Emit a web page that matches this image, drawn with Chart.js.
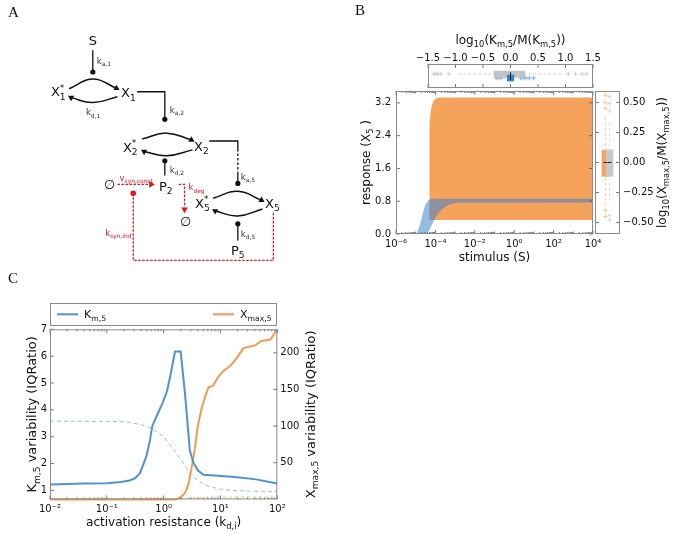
<!DOCTYPE html>
<html><head><meta charset="utf-8">
<script src="https://cdn.jsdelivr.net/npm/chart.js@4.4.1/dist/chart.umd.min.js"></script>
<style>
html,body{margin:0;padding:0;background:#fff;}
#wrap{position:relative;width:675px;height:534px;overflow:hidden;background:#fff;}
#wrap canvas{position:absolute;left:0;top:0;}
</style></head><body>
<div id="wrap">
<canvas id="cA" width="675" height="534"></canvas>
<canvas id="cB" width="675" height="534"></canvas>
<canvas id="cBtop" width="675" height="534"></canvas>
<canvas id="cBright" width="675" height="534"></canvas>
<canvas id="cC" width="675" height="534"></canvas>
</div>
<script>
// ================= DATA =================
// ---- Panel A: reaction diagram (diagram units) ----
const A_TEXT   = ['S','X^{*}_{1}','X_{1}','X^{*}_{2}','X_{2}','P_{2}','X^{*}_{5}','X_{5}','P_{5}','∅','∅'];
const A_TEXT_X = [90,55,126,128,200,164,201,272,237,107,184];
const A_TEXT_Y = [37,89,90,145,144,184.5,202,202,250,183,220];
const A_RATE   = ['k_{a,1}','k_{d,1}','k_{a,2}','k_{d,2}','k_{a,5}','k_{d,5}'];
const A_RATE_X = [94,83,168,168,240,240];
const A_RATE_Y = [58,110,107,168,175,233];
const A_RED_TEXT = ['v_{syn,const}','k_{deg}','k_{syn,ind}'];
const A_RED_X = [134,187,116];
const A_RED_Y = [176,186,232];
const A_SOLID = [
  [[90,47],[90,69]],
  [[135,89],[163,89],[163,117]],
  [[208,139],[237,139],[237,147]],
  [[237,171],[237,182]],
  [[163,174],[163,159]],
  [[237,240],[237,223]]
];
const A_DASHED = [[[237,147],[237,171]]];
const A_RED = [
  [[115,183],[146,183]],
  [[177,183],[183,183],[183,206]],
  [[131,192],[131,260],[273,260],[273,210]]
];
const A_ARCS = [
  [[66,86],[90,76],[114,85.5]], [[115,94],[90,100],[68,95]],
  [[140,137],[165,131],[190,137.8]], [[191,148],[165,154],[142,149.7]],
  [[212,197],[237,190],[261,199]], [[262,208],[237,215],[214,210]]
];
const A_DOTS = [[90,69],[163,117],[237,182],[163,159],[237,223]];
const A_RED_DOTS = [[131,192]];
const A_ARROWS = [[114,85.5,120],[68,95,300],[190,137.8,120],[142,149.7,300],[261,199,120],[214,210,300]];
const A_RED_ARROWS = [[149,183,90],[183,208.5,180]];

// ---- Panel B: response bands, stimulus given as log10(S) ----
const B_ORANGE_UP_LOGS = [-4.32,-4.31,-4.29,-4.25,-4.19,-4.1,-4.0,-3.8,4];
const B_ORANGE_UP_Y    = [0.34,2.0,2.7,2.95,3.12,3.24,3.3,3.33,3.33];
const B_ORANGE_LO_LOGS = [-4.32,4];
const B_ORANGE_LO_Y    = [0.34,0.34];
const B_BLUE_UP_LOGS = [-4.95,-4.8,-4.7,-4.6,-4.5,-4.4,-4.3,-4.15,-3.9,4];
const B_BLUE_UP_Y    = [0,0.2,0.38,0.58,0.72,0.8,0.84,0.855,0.86,0.86];
const B_BLUE_LO_LOGS = [-4.95,-4.45,-4.3,-4.19,-4.02,-3.8,-3.5,-3.2,-2.9,4];
const B_BLUE_LO_Y    = [0,0,0.1,0.22,0.38,0.54,0.67,0.73,0.76,0.77];
const B_X_EXP_RANGE = [-6,4];
const B_X_LABEL_EXP = [-6,-4,-2,0,2,4];
const B_Y_TICKS = [0,0.8,1.6,2.4,3.2];

// top boxplot: log10(Km,5/M(Km,5)); rows: gray, blue
const BT_TICKS = [-1.5,-1,-0.5,0,0.5,1,1.5];
const BT_POS = [1,2];
const BT_Q1  = [-0.3,-0.06];
const BT_MED = [0,0];
const BT_Q3  = [0.26,0.06];
const BT_WLO = [-0.95,-0.14];
const BT_WHI = [0.95,0.14];
const BT_FLIERS_GRAY = [-1.4,-1.36,-1.32,-1.27,-1.12,1.05,1.18,1.3,1.38];
const BT_FLIERS_BLUE = [-0.26,-0.21,-0.17,0.18,0.23,0.28,0.34,0.42];

// right boxplot: log10(Xmax,5/M(Xmax,5)); columns: orange, gray
const BR_TICKS = [-0.5,-0.25,0,0.25,0.5];
const BR_POS = [1,2];
const BR_Q1  = [-0.115,-0.115];
const BR_MED = [0,0];
const BR_Q3  = [0.1,0.105];
const BR_WLO = [-0.36,-0.32];
const BR_WHI = [0.38,0.34];
const BR_FLIERS_ORANGE = [0.56,0.5,0.45,-0.4,-0.45];
const BR_FLIERS_GRAY   = [0.55,0.49,0.43,-0.44,-0.48];

// ---- Panel C: variability vs activation resistance, kd given as log10 ----
const C_KM_LOGX = [-2,-1.4,-1.0,-0.75,-0.6,-0.5,-0.42,-0.36,-0.3,-0.24,-0.2,-0.12,-0.02,0.06,0.12,0.2,0.3,0.38,0.46,0.52,0.6,0.7,0.95,1.25,1.6,2.0];
const C_KM      = [1.22,1.26,1.27,1.31,1.37,1.46,1.63,1.95,2.3,2.88,3.4,3.78,4.25,4.7,5.3,6.17,6.17,4.5,2.5,2.05,1.75,1.58,1.55,1.5,1.42,1.26];
const C_XMAX_LOGX = [-2,0.2,0.29,0.375,0.43,0.49,0.55,0.6,0.67,0.73,0.79,0.87,0.96,1.05,1.17,1.28,1.4,1.49,1.61,1.72,1.88,2.0];
const C_XMAX      = [0,0,2.5,8.5,19,42,70,100,125,140,153,155,167,175,182,192,206,208,210,216,218,232];
const C_KMREF_LOGX = [-2,-1,-0.65,-0.4,-0.2,0,0.15,0.3,0.45,0.6,0.8,1.0,1.3,1.6,2.0];
const C_KMREF      = [3.58,3.57,3.55,3.45,3.3,3.0,2.6,2.15,1.7,1.35,1.15,1.04,0.99,0.97,0.96];
const C_XREF_LOGX = [0.2,0.4,0.6,1.0,1.5,2.0];
const C_XREF      = [0.5,2,3,3.2,3.3,3.4];
const C_X_EXP_RANGE = [-2,2];
const C_X_LABEL_EXP = [-2,-1,0,1,2];
const C_Y_TICKS = [1,2,3,4,5,6,7];
const C_Y2_TICKS = [50,100,150,200];

// ================= HELPERS =================
const FONT = '"DejaVu Sans", "Liberation Sans", sans-serif';
const SERIF = '"Liberation Serif", "DejaVu Serif", serif';
Chart.defaults.font.family = FONT;
Chart.defaults.font.size = 10;
Chart.defaults.color = '#111';
Chart.defaults.animation = false;
Chart.defaults.plugins.legend.display = false;
Chart.defaults.plugins.tooltip.enabled = false;
const FRAME = '#8a8a8a', TICKC = '#555';
const BLUE = '#4f93cf', ORANGE = '#f5a35c';

const SUP = {'-':'⁻','0':'⁰','1':'¹','2':'²','3':'³','4':'⁴','5':'⁵','6':'⁶','7':'⁷','8':'⁸','9':'⁹'};
const pow10Label = e => '10' + String(e).split('').map(c => SUP[c]).join('');
const minus = s => s.replace('-', '−');
const pts = (xs, ys, fx) => xs.map((v, i) => ({x: fx ? fx(v) : v, y: ys[i]}));
const p10 = v => Math.pow(10, v);

function logTicks(range, labeled) {
  const t = [];
  for (let e = range[0]; e <= range[1]; e++) {
    t.push({value: p10(e), exp: e, lab: labeled.includes(e), len: labeled.includes(e) ? 4 : 2.5});
    if (e < range[1]) for (let m = 2; m <= 9; m++) t.push({value: m * p10(e), len: 2});
  }
  return t;
}
function richLayout(ctx, str, size, family) {
  const segs = []; let i = 0, buf = '';
  while (i < str.length) {
    const c = str[i];
    if ((c === '_' || c === '^') && str[i + 1] === '{') {
      if (buf) { segs.push({t: buf, l: 0}); buf = ''; }
      const j = str.indexOf('}', i + 2);
      segs.push({t: str.slice(i + 2, j), l: c === '_' ? -1 : 1});
      i = j + 1;
    } else { buf += c; i++; }
  }
  if (buf) segs.push({t: buf, l: 0});
  let x = 0; const items = []; let prev = null;
  segs.forEach(s => {
    const fs = s.l === 0 ? size : size * 0.7;
    ctx.font = fs + 'px ' + family;
    const w = ctx.measureText(s.t).width;
    const dy = s.l === 0 ? 0 : (s.l < 0 ? size * 0.25 : -size * 0.45);
    if (prev && prev.l !== 0 && s.l !== 0 && prev.l !== s.l) {
      items.push({t: s.t, x: prev.x, dy, fs});
      x = Math.max(prev.x + prev.w, prev.x + w); prev = null; return;
    }
    items.push({t: s.t, x, dy, fs}); prev = {x, w, l: s.l}; x += w;
  });
  return {items, width: x};
}
function drawRich(ctx, str, x, y, o) {
  o = o || {}; const size = o.size || 12, fam = o.family || FONT;
  ctx.save(); ctx.translate(x, y); if (o.rot) ctx.rotate(o.rot);
  const L = richLayout(ctx, str, size, fam);
  const x0 = o.align === 'left' ? 0 : (o.align === 'right' ? -L.width : -L.width / 2);
  ctx.fillStyle = o.color || '#111'; ctx.textBaseline = 'alphabetic'; ctx.textAlign = 'left';
  const base = size * 0.36;
  L.items.forEach(it => { ctx.font = it.fs + 'px ' + fam; ctx.fillText(it.t, x0 + it.x, base + it.dy); });
  ctx.restore();
}
function frameTicks(id, axes) {
  return { id, afterDraw(chart) {
    const {ctx, chartArea: a} = chart;
    ctx.save(); ctx.lineWidth = 0.8; ctx.strokeStyle = TICKC;
    axes.forEach(ax => {
      const sc = chart.scales[ax.id];
      sc.ticks.forEach(t => {
        const p = sc.getPixelForValue(t.value); const len = t.len || 4;
        ctx.beginPath();
        ax.sides.forEach(sd => {
          if (sd === 'bottom') { ctx.moveTo(p, a.bottom); ctx.lineTo(p, a.bottom - len); }
          if (sd === 'top') { ctx.moveTo(p, a.top); ctx.lineTo(p, a.top + len); }
          if (sd === 'left') { ctx.moveTo(a.left, p); ctx.lineTo(a.left + len, p); }
          if (sd === 'right') { ctx.moveTo(a.right, p); ctx.lineTo(a.right - len, p); }
        });
        ctx.stroke();
      });
    });
    ctx.strokeStyle = FRAME; ctx.lineWidth = 1;
    ctx.strokeRect(a.left + 0.5, a.top + 0.5, a.width - 1, a.height - 1);
    ctx.restore();
  }};
}
const axisBase = (size, extra) => Object.assign({
  grid: {display: false, drawTicks: false, tickLength: 0}, border: {display: false},
  afterFit: s => { if (s.isHorizontal()) s.height = size; else s.width = size; }
}, extra);
const fixTicks = list => (s => { s.ticks = list.map(v => (typeof v === 'object' ? v : {value: v})); });

// ================= PANEL A =================
(function () {
  const ds = [];
  const line = (pl, color, dash, w) => ({data: pl.map(p => ({x: p[0], y: p[1]})), showLine: true, borderColor: color,
    borderWidth: w || 1.3, borderDash: dash || [], pointRadius: 0, tension: 0});
  A_SOLID.forEach(pl => ds.push(line(pl, '#111')));
  A_DASHED.forEach(pl => ds.push(line(pl, '#111', [2.5, 2])));
  A_RED.forEach(pl => ds.push(line(pl, '#e8141c', [2.5, 1.5], 1.3)));
  A_ARCS.forEach(pl => { const d = line(pl, '#111', [], 1.5); d.tension = 0.45; ds.push(d); });
  ds.push({data: A_DOTS.map(p => ({x: p[0], y: p[1]})), pointRadius: 2.6, pointBackgroundColor: '#111', pointBorderWidth: 0});
  ds.push({data: A_RED_DOTS.map(p => ({x: p[0], y: p[1]})), pointRadius: 2.8, pointBackgroundColor: '#e8141c', pointBorderWidth: 0});
  ds.push({data: A_ARROWS.map(p => ({x: p[0], y: p[1]})), pointStyle: 'triangle', pointRadius: 3.6,
    pointRotation: A_ARROWS.map(p => p[2]), pointBackgroundColor: '#111', pointBorderWidth: 0});
  ds.push({data: A_RED_ARROWS.map(p => ({x: p[0], y: p[1]})), pointStyle: 'triangle', pointRadius: 3.8,
    pointRotation: A_RED_ARROWS.map(p => p[2]), pointBackgroundColor: '#e8141c', pointBorderWidth: 0});
  new Chart(document.getElementById('cA'), {
    type: 'scatter',
    data: {datasets: ds},
    options: {
      responsive: false, events: [],
      layout: {padding: {left: 0, top: 0, right: 375, bottom: 254}},
      scales: {x: {type: 'linear', min: 0, max: 300, display: false},
               y: {type: 'linear', min: 0, max: 280, reverse: true, display: false}}
    },
    plugins: [{id: 'diagramText', afterDatasetsDraw(chart) {
      const {ctx} = chart, X = chart.scales.x, Y = chart.scales.y;
      A_TEXT.forEach((t, i) => drawRich(ctx, t, X.getPixelForValue(A_TEXT_X[i]), Y.getPixelForValue(A_TEXT_Y[i]), {size: 13}));
      A_RATE.forEach((t, i) => drawRich(ctx, t, X.getPixelForValue(A_RATE_X[i]), Y.getPixelForValue(A_RATE_Y[i]), {size: 8.5, align: 'left', color: '#333'}));
      A_RED_TEXT.forEach((t, i) => drawRich(ctx, t, X.getPixelForValue(A_RED_X[i]), Y.getPixelForValue(A_RED_Y[i]),
        {size: 8.5, align: i === 1 ? 'left' : 'center', color: '#e8141c'}));
      drawRich(ctx, 'A', 8, 11.5, {size: 15, family: SERIF, align: 'left'});
    }}]
  });
})();

// ================= PANEL B (main) =================
new Chart(document.getElementById('cB'), {
  type: 'line',
  data: {datasets: [
    {data: pts(B_BLUE_UP_LOGS, B_BLUE_UP_Y, p10), fill: '+1', backgroundColor: 'rgba(60,130,210,0.55)', borderColor: 'transparent', borderWidth: 0, pointRadius: 0, order: 0},
    {data: pts(B_BLUE_LO_LOGS, B_BLUE_LO_Y, p10), fill: false, borderColor: 'transparent', borderWidth: 0, pointRadius: 0, order: 0},
    {data: pts(B_ORANGE_UP_LOGS, B_ORANGE_UP_Y, p10), fill: '+1', backgroundColor: ORANGE, borderColor: 'transparent', borderWidth: 0, pointRadius: 0, order: 1},
    {data: pts(B_ORANGE_LO_LOGS, B_ORANGE_LO_Y, p10), fill: false, borderColor: 'transparent', borderWidth: 0, pointRadius: 0, order: 1}
  ]},
  options: {
    responsive: false, events: [],
    layout: {padding: {left: 356, top: 91, right: 82, bottom: 280}},
    scales: {
      x: axisBase(20, {type: 'logarithmic', min: p10(B_X_EXP_RANGE[0]), max: p10(B_X_EXP_RANGE[1]),
        afterBuildTicks: fixTicks(logTicks(B_X_EXP_RANGE, B_X_LABEL_EXP)),
        ticks: {autoSkip: false, maxRotation: 0, padding: 4, callback: (v, i, t) => t[i].lab ? pow10Label(t[i].exp) : ''}}),
      y: axisBase(40, {type: 'linear', min: 0, max: 3.49, afterBuildTicks: fixTicks(B_Y_TICKS),
        ticks: {padding: 5, callback: v => v.toFixed(1)}})
    }
  },
  plugins: [frameTicks('ftB', [{id: 'x', sides: ['bottom', 'top']}, {id: 'y', sides: ['left', 'right']}]),
    {id: 'titlesB', afterDraw(chart) {
      const {ctx, chartArea: a} = chart;
      drawRich(ctx, 'response (X_{5} )', a.left - 30, (a.top + a.bottom) / 2, {size: 12, rot: -Math.PI / 2});
      drawRich(ctx, 'stimulus (S)', (a.left + a.right) / 2, a.bottom + 22.7, {size: 12});
      drawRich(ctx, 'B', 355, 10, {size: 15, family: SERIF, align: 'left'});
    }}]
});

// ================= PANEL B (top boxplot) =================
(function () {
  const HALF = 0.4;
  const ds = [];
  BT_POS.forEach((p, i) => ds.push({type: 'line', data: [{x: BT_MED[i], y: p - HALF}, {x: BT_MED[i], y: p + HALF}],
    borderColor: '#222', borderWidth: 1, pointRadius: 0, order: 0}));
  ds.push({type: 'bar', data: BT_POS.map((p, i) => ({x: [BT_Q1[i], BT_Q3[i]], y: p})),
    backgroundColor: ['#c4c4c4', '#3b7fc4'], borderWidth: 0, barThickness: 6, order: 1});
  const wcol = ['#cfcfcf', '#8db8e3'];
  BT_POS.forEach((p, i) => ds.push({type: 'line', data: [{x: BT_WLO[i], y: p}, {x: BT_WHI[i], y: p}],
    borderColor: wcol[i], borderDash: [3, 2], borderWidth: 1, pointRadius: 0, order: 2}));
  ds.push({type: 'scatter', data: BT_FLIERS_GRAY.map(v => ({x: v, y: BT_POS[0]})), pointStyle: 'cross', pointRadius: 2.3, borderColor: '#cdcdcd', borderWidth: 1, order: 3});
  ds.push({type: 'scatter', data: BT_FLIERS_BLUE.map(v => ({x: v, y: BT_POS[1]})), pointStyle: 'cross', pointRadius: 2.3, borderColor: '#7fb0e0', borderWidth: 1, order: 3});
  new Chart(document.getElementById('cBtop'), {
    type: 'bar',
    data: {datasets: ds},
    options: {
      responsive: false, events: [], indexAxis: 'y',
      layout: {padding: {left: 428, top: 50, right: 82, bottom: 446}},
      scales: {
        x: axisBase(14, {type: 'linear', position: 'top', min: -1.5, max: 1.5, afterBuildTicks: fixTicks(BT_TICKS),
          ticks: {autoSkip: false, maxRotation: 0, padding: 0, callback: v => minus(v.toFixed(1))}}),
        y: {type: 'linear', min: 0, max: 3, reverse: true, display: false}
      }
    },
    plugins: [frameTicks('ftBt', [{id: 'x', sides: ['bottom', 'top']}]),
      {id: 'titleBt', afterDraw(chart) {
        const {ctx, chartArea: a} = chart;
        drawRich(ctx, 'log_{10}(K_{m,5}/M(K_{m,5}))', (a.left + a.right) / 2, a.top - 24, {size: 12});
      }}]
  });
})();

// ================= PANEL B (right boxplot) =================
(function () {
  const HALF = 0.45;
  const ds = [];
  BR_POS.forEach((p, i) => ds.push({type: 'line', data: [{x: p - HALF, y: BR_MED[i]}, {x: p + HALF, y: BR_MED[i]}],
    borderColor: '#222', borderWidth: 1, pointRadius: 0, order: 0}));
  ds.push({type: 'bar', data: BR_POS.map((p, i) => ({x: p, y: [BR_Q1[i], BR_Q3[i]]})),
    backgroundColor: [ORANGE, '#c8c8c8'], borderWidth: 0, barThickness: 7, order: 1});
  const wcol = ['#f9cfa8', '#dcdcdc'];
  BR_POS.forEach((p, i) => ds.push({type: 'line', data: [{x: p, y: BR_WLO[i]}, {x: p, y: BR_WHI[i]}],
    borderColor: wcol[i], borderDash: [3, 2], borderWidth: 1, pointRadius: 0, order: 2}));
  ds.push({type: 'scatter', data: BR_FLIERS_ORANGE.map(v => ({x: BR_POS[0], y: v})), pointStyle: 'cross', pointRadius: 2.3, borderColor: '#f8c79c', borderWidth: 1, order: 3});
  ds.push({type: 'scatter', data: BR_FLIERS_GRAY.map(v => ({x: BR_POS[1], y: v})), pointStyle: 'cross', pointRadius: 2.3, borderColor: '#d6d6d6', borderWidth: 1, order: 3});
  new Chart(document.getElementById('cBright'), {
    type: 'bar',
    data: {datasets: ds},
    options: {
      responsive: false, events: [],
      layout: {padding: {left: 595, top: 91, right: 10, bottom: 300}},
      scales: {
        x: {type: 'linear', min: 0, max: 3, display: false},
        y: axisBase(45, {type: 'linear', position: 'right', min: -0.595, max: 0.595, afterBuildTicks: fixTicks(BR_TICKS),
          ticks: {padding: 3, callback: v => minus(v.toFixed(2))}})
      }
    },
    plugins: [frameTicks('ftBr', [{id: 'y', sides: ['left', 'right']}]),
      {id: 'titleBr', afterDraw(chart) {
        const {ctx, chartArea: a} = chart;
        drawRich(ctx, 'log_{10}(X_{max,5}/M(X_{max,5}))', a.right + 41.7, (a.top + a.bottom) / 2, {size: 12, rot: -Math.PI / 2});
      }}]
  });
})();

// ================= PANEL C =================
new Chart(document.getElementById('cC'), {
  type: 'line',
  data: {datasets: [
    {label: 'Km,5', data: pts(C_KM_LOGX, C_KM, p10), yAxisID: 'y', borderColor: BLUE, borderWidth: 2, pointRadius: 0, tension: 0},
    {label: 'Xmax,5', data: pts(C_XMAX_LOGX, C_XMAX, p10), yAxisID: 'y2', borderColor: '#f59a52', borderWidth: 2, pointRadius: 0, tension: 0, clip: 3},
    {data: pts(C_KMREF_LOGX, C_KMREF, p10), yAxisID: 'y', borderColor: '#93bfe2', borderWidth: 1, borderDash: [4, 3], pointRadius: 0, tension: 0},
    {data: pts(C_XREF_LOGX, C_XREF, p10), yAxisID: 'y2', borderColor: '#f6cba6', borderWidth: 1, borderDash: [3, 3], pointRadius: 0, tension: 0}
  ]},
  options: {
    responsive: false, events: [],
    layout: {padding: {left: 30, top: 329.3, right: 367.7, bottom: 14.6}},
    scales: {
      x: axisBase(20, {type: 'logarithmic', min: p10(C_X_EXP_RANGE[0]), max: p10(C_X_EXP_RANGE[1]),
        afterBuildTicks: fixTicks(logTicks(C_X_EXP_RANGE, C_X_LABEL_EXP)),
        ticks: {autoSkip: false, maxRotation: 0, padding: 4, callback: (v, i, t) => t[i].lab ? pow10Label(t[i].exp) : ''}}),
      y: axisBase(20, {type: 'linear', position: 'left', min: 0.665, max: 7, afterBuildTicks: fixTicks(C_Y_TICKS),
        ticks: {padding: 3, callback: v => String(v)}}),
      y2: axisBase(30, {type: 'linear', position: 'right', min: 0, max: 232, afterBuildTicks: fixTicks(C_Y2_TICKS),
        ticks: {padding: 3, callback: v => String(v)}})
    }
  },
  plugins: [frameTicks('ftC', [{id: 'x', sides: ['bottom', 'top']}, {id: 'y', sides: ['left']}, {id: 'y2', sides: ['right']}]),
    {id: 'titlesC', afterDraw(chart) {
      const {ctx, chartArea: a} = chart;
      const cy = (a.top + a.bottom) / 2;
      drawRich(ctx, 'K_{m,5} variability (IQRatio)', a.left - 18.3, cy, {size: 13, rot: -Math.PI / 2});
      drawRich(ctx, 'X_{max,5} variability (IQRatio)', a.right + 32.7, cy, {size: 13, rot: -Math.PI / 2});
      drawRich(ctx, 'activation resistance (k_{d,i})', (a.left + a.right) / 2, a.bottom + 22.3, {size: 12});
      // legend box
      const lt = a.top - 26.5, lh = 22;
      ctx.save();
      ctx.strokeStyle = FRAME; ctx.lineWidth = 1;
      ctx.strokeRect(Math.round(a.left) + 0.5, Math.round(lt) + 0.5, Math.round(a.width) - 1, lh);
      const ly = lt + lh / 2 + 0.5;
      const d0 = chart.data.datasets[0], d1 = chart.data.datasets[1];
      ctx.lineWidth = 2;
      ctx.strokeStyle = d0.borderColor; ctx.beginPath(); ctx.moveTo(a.left + 7, ly); ctx.lineTo(a.left + 28, ly); ctx.stroke();
      ctx.strokeStyle = d1.borderColor; ctx.beginPath(); ctx.moveTo(a.left + 163, ly); ctx.lineTo(a.left + 184, ly); ctx.stroke();
      ctx.restore();
      drawRich(ctx, 'K_{m,5}', a.left + 34, ly - 0.5, {size: 11, align: 'left'});
      drawRich(ctx, 'X_{max,5}', a.left + 190, ly - 0.5, {size: 11, align: 'left'});
      drawRich(ctx, 'C', 8, 278, {size: 15, family: SERIF, align: 'left'});
    }}]
});
</script>
</body></html>
